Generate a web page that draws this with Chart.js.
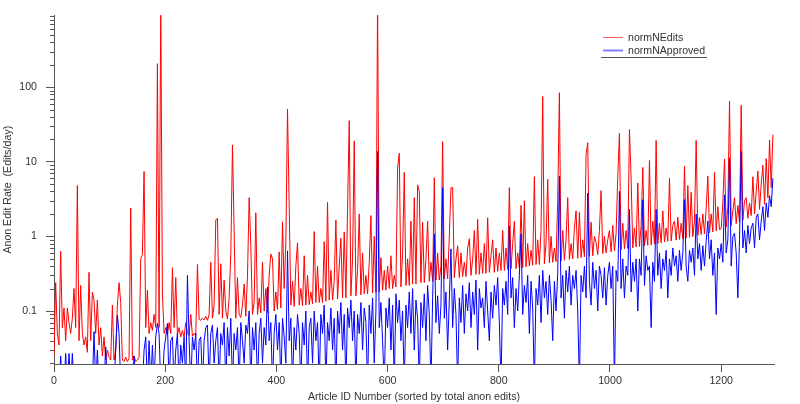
<!DOCTYPE html>
<html>
<head>
<meta charset="utf-8">
<title>Anon Edit Rate</title>
<style>
  html, body { margin: 0; padding: 0; background: #fff; }
  canvas { display: block; }
</style>
</head>
<body>
<canvas id="rateChart" width="800" height="404"></canvas>

<script src="https://cdn.jsdelivr.net/npm/chart.js"></script>
<script>
    // one value every 3rd article (ids 0, 3, 6 ... 1293)
    const ID_STEP = 3;

    const normNEdits = [
        0.025, 0.24, 0.05, 0.035, 0.63, 0.06, 0.11, 0.04, 0.11, 0.07,
        0.05, 0.08, 0.2, 0.06, 4.8, 0.04, 0.22, 0.05, 0.035, 0.045,
        0.028, 0.33, 0.04, 0.18, 0.14, 0.05, 0.14, 0.035, 0.06, 0.025,
        0.045, 0.022, 0.03, 0.024, 0.022, 0.12, 0.022, 0.03, 0.12, 0.24,
        0.13, 0.022, 0.021, 0.024, 0.021, 0.023, 2.4, 0.022, 0.025, 0.021,
        0.022, 0.024, 0.5, 0.57, 7.4, 0.06, 0.19, 0.05, 0.07, 0.055,
        0.09, 0.06, 206, 0.06, 1500, 0.17, 0.05, 0.06, 0.048, 0.07,
        0.05, 0.38, 0.06, 0.28, 0.048, 0.06, 0.045, 0.055, 0.045, 0.07,
        0.05, 0.047, 0.09, 0.046, 0.05, 0.047, 0.42, 0.078, 0.075, 0.08,
        0.076, 0.085, 0.075, 0.09, 0.45, 0.08, 0.12, 1.66, 1.75, 0.09,
        0.43, 0.08, 0.26, 0.1, 0.078, 0.15, 0.58, 16.8, 1.18, 0.08,
        0.28, 0.09, 0.082, 0.12, 0.23, 0.085, 0.29, 3.3, 0.75, 0.09,
        0.13, 2.07, 0.09, 0.15, 0.095, 0.45, 0.1, 0.2, 0.095, 0.3,
        0.58, 0.5, 0.1, 0.18, 0.105, 0.62, 0.11, 1.57, 0.2, 0.85,
        50.7, 2.6, 0.12, 0.25, 0.115, 0.4, 0.82, 0.12, 0.2, 0.118,
        0.55, 0.12, 0.3, 0.122, 0.18, 0.125, 1.16, 0.13, 0.4, 0.13,
        0.2, 0.13, 0.85, 0.135, 2.85, 0.14, 0.35, 0.14, 0.25, 1.66,
        0.145, 0.4, 0.95, 0.15, 1.15, 0.15, 2.3, 35.5, 0.16, 0.5,
        19, 0.16, 0.35, 2.0, 0.165, 0.6, 0.17, 0.3, 0.17, 0.45,
        1.9, 0.175, 1.0, 0.18, 1500, 0.18, 0.52, 0.19, 0.35, 0.19,
        0.4, 0.2, 0.55, 0.2, 0.3, 0.21, 8.2, 13.0, 0.21, 0.6,
        7.2, 0.22, 0.5, 0.22, 1.6, 0.23, 3.3, 0.23, 4.9, 4.0,
        0.24, 1.55, 0.24, 0.5, 1.6, 0.25, 0.45, 0.25, 6.1, 0.26,
        0.6, 0.26, 0.4, 18.6, 0.27, 0.5, 0.27, 1.0, 4.5, 4.5,
        0.28, 0.5, 0.75, 0.28, 0.6, 0.29, 0.45, 0.29, 0.7, 0.93,
        0.3, 0.5, 1.2, 0.31, 1.7, 0.31, 0.6, 0.32, 0.8, 0.32,
        1.78, 0.33, 0.55, 0.9, 0.33, 0.7, 0.34, 0.6, 0.35, 1.2,
        0.35, 0.7, 0.36, 4.5, 0.37, 0.8, 1.6, 0.37, 0.6, 0.38,
        2.6, 0.38, 3.0, 0.39, 0.8, 0.4, 0.65, 0.41, 6.3, 0.42,
        0.9, 0.42, 1.2, 75, 0.43, 0.8, 5.8, 0.44, 1.0, 0.45,
        0.7, 0.46, 3.1, 84, 0.47, 1.2, 0.48, 0.9, 3.3, 0.49,
        0.8, 0.5, 1.3, 2.2, 0.51, 2.1, 0.52, 0.9, 0.53, 12.4,
        18, 0.54, 1.55, 0.55, 1.0, 0.83, 0.57, 1.2, 4.1, 0.59,
        1.0, 0.6, 0.9, 1.2, 0.62, 1.4, 0.64, 1.1, 6.3, 24,
        0.66, 1.5, 0.68, 1.2, 0.69, 27, 6.0, 0.7, 1.3, 0.72,
        5.2, 0.73, 1.4, 8.4, 0.75, 1.2, 0.76, 10.4, 0.77, 1.6,
        0.79, 19.3, 0.8, 1.5, 0.82, 2.2, 0.84, 1.3, 0.86, 6.0,
        0.87, 1.4, 1.6, 0.89, 1.8, 0.91, 1.5, 0.93, 8.8, 0.95,
        4.8, 0.97, 3.9, 0.99, 1.6, 19.3, 1.03, 1.8, 1.06, 2.0,
        1.08, 2.4, 6.4, 1.12, 2.0, 1.15, 7.2, 1.19, 2.5, 1.23,
        1.27, 2.8, 10.9, 1.33, 2.5, 65, 1.4, 2.2, 3.3, 1.48,
        2.6, 1.55, 57, 1.65, 3.0, 3.3, 1.75, 2.8, 1.9, 6.3,
        2.0, 4.0, 7.5, 2.3, 5.0, 9, 2.7, 11, 3.3, 19.6,
        4.5, 23
    ];

    // 0.01 = below the bottom of the axis
    const normNApproved = [
        0.01, 0.01, 0.01, 0.01, 0.025, 0.01, 0.01, 0.027, 0.01, 0.027,
        0.01, 0.027, 0.01, 0.01, 0.01, 0.01, 0.01, 0.01, 0.01, 0.01,
        0.01, 0.01, 0.01, 0.01, 0.053, 0.01, 0.03, 0.01, 0.01, 0.01,
        0.01, 0.033, 0.01, 0.01, 0.01, 0.01, 0.01, 0.03, 0.088, 0.05,
        0.01, 0.01, 0.01, 0.01, 0.01, 0.01, 0.01, 0.01, 0.025, 0.01,
        0.01, 0.01, 0.01, 0.01, 0.03, 0.045, 0.01, 0.04, 0.01, 0.035,
        0.01, 0.045, 0.068, 0.05, 0.01, 0.01, 0.03, 0.045, 0.068, 0.01,
        0.04, 0.045, 0.01, 0.03, 0.05, 0.01, 0.035, 0.02, 0.045, 0.01,
        0.3, 0.04, 0.01, 0.045, 0.03, 0.05, 0.01, 0.04, 0.045, 0.01,
        0.04, 0.06, 0.065, 0.01, 0.05, 0.065, 0.02, 0.04, 0.06, 0.01,
        0.05, 0.035, 0.07, 0.01, 0.06, 0.025, 0.08, 0.01, 0.05, 0.03,
        0.06, 0.01, 0.07, 0.04, 0.02, 0.065, 0.05, 0.1, 0.01, 0.06,
        0.03, 0.07, 0.01, 0.05, 0.08, 0.02, 0.06, 0.035, 0.21, 0.04,
        0.07, 0.01, 0.05, 0.09, 0.03, 0.07, 0.01, 0.08, 0.045, 0.02,
        0.64, 0.04, 0.08, 0.01, 0.06, 0.03, 0.09, 0.05, 0.01, 0.07,
        0.035, 0.1, 0.01, 0.06, 0.08, 0.02, 0.1, 0.04, 0.07, 0.01,
        0.09, 0.05, 0.12, 0.01, 0.07, 0.04, 0.11, 0.03, 0.08, 0.01,
        0.1, 0.05, 0.13, 0.03, 0.09, 0.01, 0.11, 0.06, 0.14, 0.04,
        0.1, 0.01, 0.09, 0.05, 0.13, 0.03, 0.11, 0.07, 0.01, 0.12,
        0.05, 0.15, 0.02, 0.1, 13.7, 0.06, 0.13, 0.04, 0.01, 0.11,
        0.06, 0.15, 0.03, 0.12, 0.01, 0.17, 0.07, 0.14, 0.04, 0.1,
        0.01, 0.12, 0.06, 0.18, 0.05, 0.2, 0.03, 0.14, 0.08, 0.01,
        0.13, 0.06, 0.17, 0.04, 0.22, 0.09, 0.01, 0.15, 1.08, 0.07,
        0.16, 0.05, 0.12, 4.5, 0.08, 0.18, 0.03, 0.14, 0.68, 0.06,
        0.2, 0.09, 0.01, 0.15, 0.07, 0.22, 0.05, 0.17, 0.1, 0.24,
        0.06, 0.18, 0.09, 0.26, 0.03, 0.2, 0.11, 0.15, 0.06, 0.25,
        0.1, 0.04, 0.18, 0.08, 0.22, 0.12, 0.28, 0.07, 0.01, 0.2,
        0.12, 0.25, 0.09, 1.38, 0.15, 0.28, 0.06, 0.2, 0.1, 0.3,
        1.08, 0.09, 0.22, 0.13, 0.3, 0.05, 0.25, 0.11, 0.01, 0.2,
        0.12, 0.3, 0.07, 0.35, 0.15, 0.25, 0.09, 0.3, 0.14, 0.04,
        0.25, 0.1, 0.32, 6.4, 0.15, 0.3, 0.08, 0.35, 0.18, 0.4,
        0.12, 0.3, 0.2, 0.35, 0.1, 0.01, 0.3, 0.18, 0.4, 0.15,
        3.8, 0.25, 0.12, 0.45, 0.2, 0.35, 0.1, 0.4, 0.3, 0.15,
        0.38, 0.12, 0.3, 0.45, 0.2, 0.4, 0.01, 0.35, 0.25, 4.0,
        0.2, 0.5, 0.15, 0.4, 0.3, 2.3, 0.18, 0.45, 0.25, 0.5,
        0.1, 0.5, 0.3, 3.1, 0.22, 0.55, 0.35, 0.4, 0.06, 0.45,
        0.25, 2.3, 0.3, 0.6, 0.2, 0.5, 0.35, 0.65, 0.15, 0.5,
        0.3, 0.7, 0.4, 0.55, 0.25, 0.65, 0.35, 0.6, 3.1, 0.4,
        0.25, 0.65, 0.45, 0.7, 0.3, 2.0, 0.5, 0.8, 0.35, 0.75,
        0.4, 0.85, 1.6, 0.5, 0.9, 0.3, 0.6, 0.09, 0.7, 0.5,
        0.8, 0.45, 3.6, 0.6, 0.9, 11.2, 0.4, 1.0, 1.1, 0.6,
        0.15, 0.9, 13.7, 0.7, 1.2, 0.6, 1.4, 0.8, 1.3, 1.5,
        0.7, 1.8, 2.0, 0.9, 1.6, 2.5, 1.2, 2.8, 1.8, 3.5,
        2.5, 6.0
    ];

    const xTicks = [0, 200, 400, 600, 800, 1000, 1200];
    const yTicks = [0.1, 1, 10, 100];
    const yMinorTicks = [
        0.02, 0.03, 0.04, 0.05, 0.06, 0.07, 0.08, 0.09,
        0.2, 0.3, 0.4, 0.5, 0.6, 0.7, 0.8, 0.9,
        2, 3, 4, 5, 6, 7, 8, 9,
        20, 30, 40, 50, 60, 70, 80, 90,
        200, 300, 400, 500, 600, 700, 800, 900
    ];

    const AXIS_COLOR = '#555';
    const TEXT_COLOR = '#333';
    const FONT = "'Liberation Sans', Arial, sans-serif";

    const articleIds = normNEdits.map((v, i) => i * ID_STEP);

    Chart.defaults.font.family = FONT;
    Chart.defaults.font.size = 10.6;
    Chart.defaults.color = TEXT_COLOR;

    // minor log ticks + the little legend in the top right
    const extras = {
        id: 'extras',
        afterDraw(chart) {
            const ctx = chart.ctx;
            const ys = chart.scales.y;
            ctx.save();
            ctx.strokeStyle = AXIS_COLOR;
            ctx.lineWidth = 1;
            ctx.beginPath();
            yMinorTicks.forEach(v => {
                const py = Math.round(ys.getPixelForValue(v)) + 0.5;
                ctx.moveTo(ys.right - 4, py);
                ctx.lineTo(ys.right, py);
            });
            ctx.stroke();

            // legend
            const lx = 603, ly = 37;
            ctx.font = '10.6px ' + FONT;
            ctx.textBaseline = 'middle';
            ctx.fillStyle = TEXT_COLOR;
            chart.data.datasets.slice().reverse().forEach((ds, i) => {
                const y = ly + i * 13;
                ctx.strokeStyle = i === 0 ? '#ff6060' : '#8080ff';
                ctx.lineWidth = i === 0 ? 1 : 2;
                ctx.beginPath();
                ctx.moveTo(lx, y + 0.5);
                ctx.lineTo(lx + 20, y + 0.5);
                ctx.stroke();
                ctx.fillText(ds.label, lx + 25, y + 1);
            });
            ctx.strokeStyle = AXIS_COLOR;
            ctx.lineWidth = 1;
            ctx.beginPath();
            ctx.moveTo(601, 57.5);
            ctx.lineTo(707, 57.5);
            ctx.stroke();
            ctx.restore();
        }
    };

    const ctx = document.getElementById('rateChart').getContext('2d');
    const rateChart = new Chart(ctx, {
        type: 'line',
        data: {
            datasets: [
                {
                    label: 'normNApproved',
                    data: normNApproved.map((v, i) => ({ x: articleIds[i], y: v })),
                    borderColor: '#0000ff',
                    borderWidth: 1,
                    pointRadius: 0,
                    fill: false,
                    order: 1
                },
                {
                    label: 'normNEdits',
                    data: normNEdits.map((v, i) => ({ x: articleIds[i], y: v })),
                    borderColor: '#ff0000',
                    borderWidth: 1,
                    pointRadius: 0,
                    fill: false,
                    order: 2
                }
            ]
        },
        options: {
            responsive: false,
            animation: false,
            layout: { padding: { left: 0, right: 26, top: 13, bottom: 0 } },
            plugins: {
                legend: { display: false },
                tooltip: { enabled: false }
            },
            scales: {
                x: {
                    type: 'linear',
                    min: 0,
                    max: 1295,
                    afterBuildTicks: s => { s.ticks = xTicks.map(v => ({ value: v })); },
                    afterFit: s => { s.height = 40; },
                    ticks: { padding: 3, maxRotation: 0, color: TEXT_COLOR, callback: v => String(v) },
                    grid: { drawOnChartArea: false, tickLength: 8, tickColor: AXIS_COLOR },
                    border: { color: AXIS_COLOR },
                    title: {
                        display: true,
                        text: 'Article ID Number (sorted by total anon edits)',
                        padding: { top: 0, bottom: 1 }
                    }
                },
                y: {
                    type: 'logarithmic',
                    min: 0.0195,
                    max: 915,
                    afterBuildTicks: s => { s.ticks = yTicks.map(v => ({ value: v })); },
                    afterFit: s => { s.width = 54; },
                    ticks: { padding: 9, callback: v => String(v), color: TEXT_COLOR },
                    grid: { drawOnChartArea: false, tickLength: 8, tickColor: AXIS_COLOR },
                    border: { color: AXIS_COLOR },
                    title: {
                        display: true,
                        text: 'Anon Edit Rate  (Edits/day)',
                        padding: { top: 2, bottom: 0 }
                    }
                }
            }
        },
        plugins: [extras]
    });
</script>
</body>
</html>
